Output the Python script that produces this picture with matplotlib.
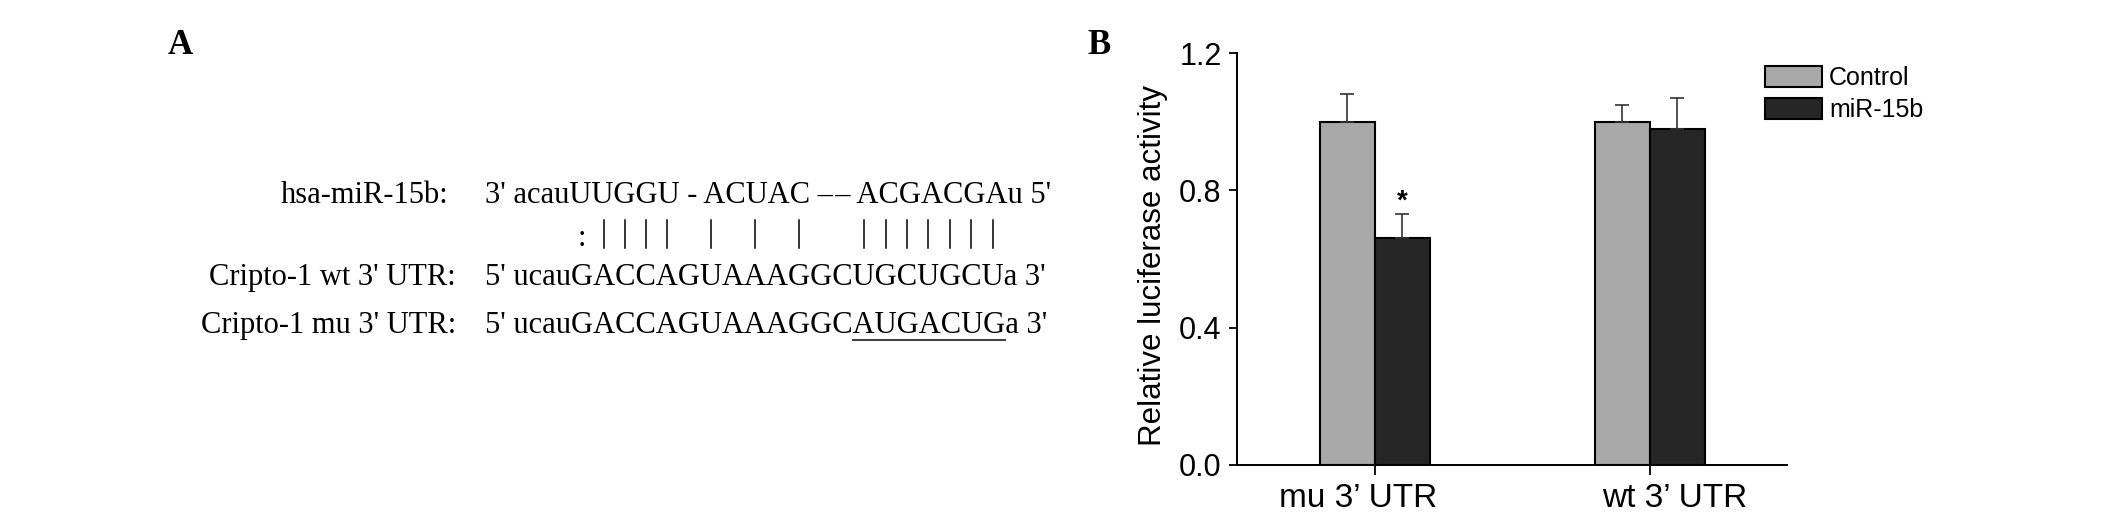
import numpy as np
import matplotlib.pyplot as plt

# panel B: relative luciferase activity
groups = ["mu 3\u2019 UTR", "wt 3\u2019 UTR"]
series = ["Control", "miR-15b"]
control = [1.00, 1.00]
control_err = [0.08, 0.05]
mir = [0.66, 0.98]
mir_err = [0.07, 0.09]
signif = ["*", ""]

# panel A: miR-15b / Cripto-1 3' UTR alignment
seq_labels = ["hsa-miR-15b:", "Cripto-1 wt 3' UTR:", "Cripto-1 mu 3' UTR:"]
seqs = ["3' acauUUGGU - ACUAC \u2013\u200a\u2013 ACGACGAu 5'",
        "5' ucauGACCAGUAAAGGCUGCUGCUa 3'",
        "5' ucauGACCAGUAAAGGCAUGACUGa 3'"]
pairs = ":||||" + " | | |" + "  " + "|||||||"   # over the 20 upper-case wt bases
site_start = 7          # index of first upper-case base in the wt/mu strings
mutated = (13, 20)      # mutated bases in the mu site (upper-case index range)

fig = plt.figure(figsize=(21.26, 5.2), dpi=100)

# ---- panel A, drawn in pixel coordinates
ax0 = fig.add_axes([0, 0, 1, 1])
ax0.set_xlim(0, 2126)
ax0.set_ylim(520, 0)
ax0.axis('off')

serif = dict(family=['Liberation Serif', 'DejaVu Serif'], size=22, color='black')
renderer = fig.canvas.get_renderer()

def text_w(s):
    t = ax0.text(0, 0, s, **serif)
    w = t.get_window_extent(renderer).width
    t.remove()
    return w

ax0.text(168, 54, "A", family='Liberation Serif', size=25, weight='bold')
ax0.text(1087, 54, "B", family='Liberation Serif', size=25, weight='bold')

x_seq = 485
label_right = [448, 456, 456]
baselines = [203, 285, 333]
for lab, s, xr, yb in zip(seq_labels, seqs, label_right, baselines):
    ax0.text(xr, yb, lab, ha='right', va='baseline', **serif)
    ax0.text(x_seq, yb, s, ha='left', va='baseline', **serif)

# pairing marks centred over the wt bases
wt = seqs[1]
for i, p in enumerate(pairs):
    k = site_start + i
    cx = x_seq + (text_w(wt[:k]) + text_w(wt[:k + 1])) / 2
    if p == '|':
        ax0.plot([cx, cx], [220, 248], color='black', lw=1.1)
    elif p == ':':
        ax0.text(cx, 238, ':', ha='center', va='center', **serif)

# underline the mutated bases
mu = seqs[2]
u0 = x_seq + text_w(mu[:site_start + mutated[0]])
u1 = x_seq + text_w(mu[:site_start + mutated[1]])
ax0.plot([u0, u1], [340, 340], color='#444444', lw=1.5)

# ---- panel B
plt.rcParams['font.family'] = 'Liberation Sans'
ax = fig.add_axes([1237 / 2126, 1 - 465 / 520, 550 / 2126, 412 / 520])
x = np.arange(1, len(groups) + 1)
w = 0.2
ekw = dict(ecolor='#333333', elinewidth=1.2, capsize=5, capthick=1.2)
ax.bar(x - w / 2, control, w, yerr=[np.zeros(len(x)), control_err],
       color='#a8a8a8', edgecolor='black', linewidth=1.5, error_kw=ekw, label=series[0])
ax.bar(x + w / 2, mir, w, yerr=[np.zeros(len(x)), mir_err],
       color='#262626', edgecolor='black', linewidth=1.5, error_kw=ekw, label=series[1])
for i, s in enumerate(signif):
    if s:
        ax.text(x[i] + w / 2, mir[i] + mir_err[i], s, ha='center', va='bottom',
                fontsize=20, fontweight='bold', family='Liberation Sans')

ax.set_xlim(0.5, 2.5)
ax.set_ylim(0, 1.2)
ax.set_xticks(x)
ax.set_xticklabels([])
# group names sit slightly off their ticks in the original
for xi, lab, dx in zip(x, groups, [-12, 18]):
    ax.annotate(lab, xy=(xi, 0), xycoords=ax.get_xaxis_transform(),
                xytext=(dx, -13), textcoords='offset points',
                ha='center', va='top', fontsize=24, family='Liberation Sans')
ax.set_yticks([0, 0.4, 0.8, 1.2])
ax.set_yticklabels(['%.1f' % v for v in [0, 0.4, 0.8, 1.2]], fontsize=22, family='Liberation Sans')
ax.tick_params(axis='y', direction='out', length=6, width=1.3, pad=5)
ax.tick_params(axis='x', direction='out', length=7, width=1.3, pad=6)
for side in ['top', 'right']:
    ax.spines[side].set_visible(False)
for side in ['left', 'bottom']:
    ax.spines[side].set_linewidth(1.4)
ax.set_ylabel('Relative luciferase activity', fontsize=22.5, family='Liberation Sans')
ax.yaxis.set_label_coords(-0.125, 0.485)
ax.patch.set_alpha(0)

ax.legend(loc='upper left', bbox_to_anchor=(1765 / 2126, 1 - 66 / 520),
          bbox_transform=fig.transFigure, frameon=False, fontsize=18,
          borderpad=0, borderaxespad=0, handlelength=2.28, handleheight=0.92,
          handletextpad=0.28, labelspacing=0.32)

fig.savefig('out.png', dpi=100)
